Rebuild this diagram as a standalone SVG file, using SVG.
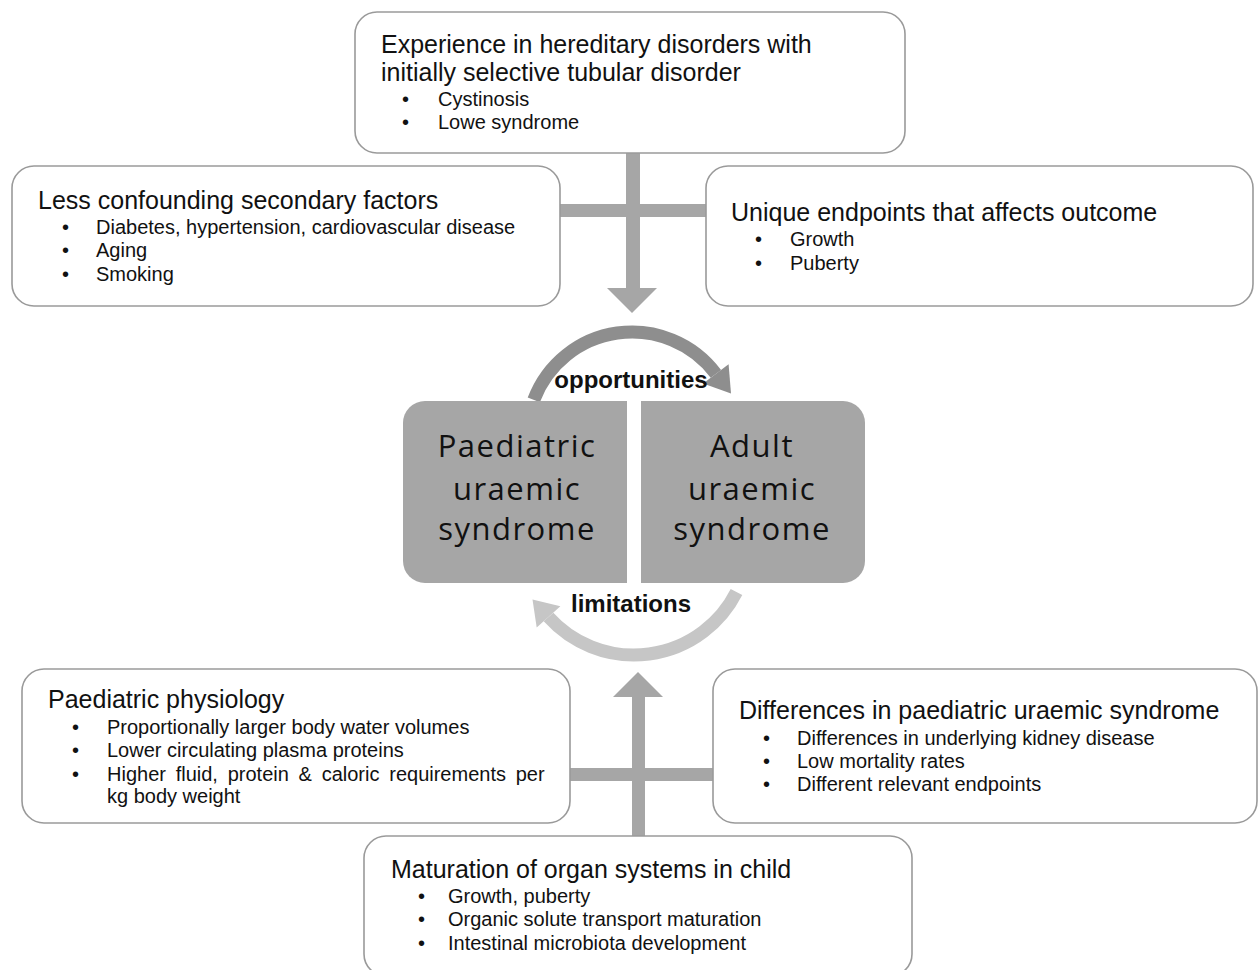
<svg xmlns="http://www.w3.org/2000/svg" width="1258" height="970" viewBox="0 0 1258 970">
<style>
.box{fill:#fff;stroke:#9a9a9a;stroke-width:1.6}
.t{font-family:"Liberation Sans",Arial,sans-serif;font-size:25px;fill:#111}
.b{font-family:"Liberation Sans",Arial,sans-serif;font-size:20px;fill:#111}
.core{fill:#a6a6a6}
.ct{font-family:"Open Sans","Noto Sans",sans-serif;font-size:31px;letter-spacing:1.5px;fill:#111;text-anchor:middle}
.lbl{font-family:"Liberation Sans",Arial,sans-serif;font-size:24px;font-weight:bold;fill:#111;text-anchor:middle}
.conn{fill:#a6a6a6}
</style>
<rect width="1258" height="970" fill="#fff"/>
<g id="connectors">
  <rect class="conn" x="626" y="152" width="14" height="137"/>
  <polygon class="conn" points="607,288 657,288 632,313"/>
  <rect class="conn" x="559" y="204" width="148" height="13"/>
  <rect class="conn" x="632" y="696" width="13" height="141"/>
  <polygon class="conn" points="613,697 663,697 638,672"/>
  <rect class="conn" x="569" y="768" width="145" height="13"/>
  <path d="M 533.8 399.9 A 105 105 0 0 1 715.9 373.8" fill="none" stroke="#8e8e8e" stroke-width="13"/>
  <polygon points="703.1,383.4 728.6,364.2 731,393.5" fill="#8e8e8e"/>
  <path d="M 736.5 592 A 115 115 0 0 1 548.5 617" fill="none" stroke="#c6c6c6" stroke-width="13"/>
  <polygon points="560.4,606.3 536.7,627.6 532.5,599.5" fill="#c6c6c6"/>
</g>
<g id="node-hereditary">
  <rect class="box" x="355" y="12" width="550" height="141" rx="22"/>
  <text class="t" x="381" y="53">Experience in hereditary disorders with</text>
  <text class="t" x="381" y="81">initially selective tubular disorder</text>
  <text class="b" x="402" y="106">•</text><text class="b" x="438" y="106">Cystinosis</text>
  <text class="b" x="402" y="129">•</text><text class="b" x="438" y="129">Lowe syndrome</text>
</g>
<g id="node-confounding">
  <rect class="box" x="12" y="166" width="548" height="140" rx="22"/>
  <text class="t" x="38" y="209">Less confounding secondary factors</text>
  <text class="b" x="62" y="234">•</text><text class="b" x="96" y="234">Diabetes, hypertension, cardiovascular disease</text>
  <text class="b" x="62" y="257">•</text><text class="b" x="96" y="257">Aging</text>
  <text class="b" x="62" y="281">•</text><text class="b" x="96" y="281">Smoking</text>
</g>
<g id="node-endpoints">
  <rect class="box" x="706" y="166" width="547" height="140" rx="22"/>
  <text class="t" x="731" y="221">Unique endpoints that affects outcome</text>
  <text class="b" x="755" y="246">•</text><text class="b" x="790" y="246">Growth</text>
  <text class="b" x="755" y="270">•</text><text class="b" x="790" y="270">Puberty</text>
</g>
<g id="node-paediatric">
  <path class="core" d="M 425 401 H 627 V 583 H 425 A 22 22 0 0 1 403 561 V 423 A 22 22 0 0 1 425 401 Z"/>
  <text class="ct" x="517" y="457">Paediatric</text>
  <text class="ct" x="517" y="500">uraemic</text>
  <text class="ct" x="517" y="540">syndrome</text>
</g>
<g id="node-adult">
  <path class="core" d="M 641 401 H 843 A 22 22 0 0 1 865 423 V 561 A 22 22 0 0 1 843 583 H 641 Z"/>
  <text class="ct" x="752" y="457">Adult</text>
  <text class="ct" x="752" y="500">uraemic</text>
  <text class="ct" x="752" y="540">syndrome</text>
</g>
<g id="label-opportunities">
  <text class="lbl" x="631" y="388">opportunities</text>
</g>
<g id="label-limitations">
  <text class="lbl" x="631" y="612">limitations</text>
</g>
<g id="node-physiology">
  <rect class="box" x="22" y="669" width="548" height="154" rx="22"/>
  <text class="t" x="48" y="708">Paediatric physiology</text>
  <text class="b" x="72" y="734">•</text><text class="b" x="107" y="734">Proportionally larger body water volumes</text>
  <text class="b" x="72" y="757">•</text><text class="b" x="107" y="757">Lower circulating plasma proteins</text>
  <text class="b" x="72" y="781">•</text><text class="b" x="107" y="781" word-spacing="4.2">Higher fluid, protein &amp; caloric requirements per</text>
  <text class="b" x="107" y="803">kg body weight</text>
</g>
<g id="node-differences">
  <rect class="box" x="713" y="669" width="544" height="154" rx="22"/>
  <text class="t" x="739" y="719">Differences in paediatric uraemic syndrome</text>
  <text class="b" x="763" y="745">•</text><text class="b" x="797" y="745">Differences in underlying kidney disease</text>
  <text class="b" x="763" y="768">•</text><text class="b" x="797" y="768">Low mortality rates</text>
  <text class="b" x="763" y="791">•</text><text class="b" x="797" y="791">Different relevant endpoints</text>
</g>
<g id="node-maturation">
  <rect class="box" x="364" y="836" width="548" height="140" rx="22"/>
  <text class="t" x="391" y="878">Maturation of organ systems in child</text>
  <text class="b" x="418" y="903">•</text><text class="b" x="448" y="903">Growth, puberty</text>
  <text class="b" x="418" y="926">•</text><text class="b" x="448" y="926">Organic solute transport maturation</text>
  <text class="b" x="418" y="950">•</text><text class="b" x="448" y="950">Intestinal microbiota development</text>
</g>
</svg>
